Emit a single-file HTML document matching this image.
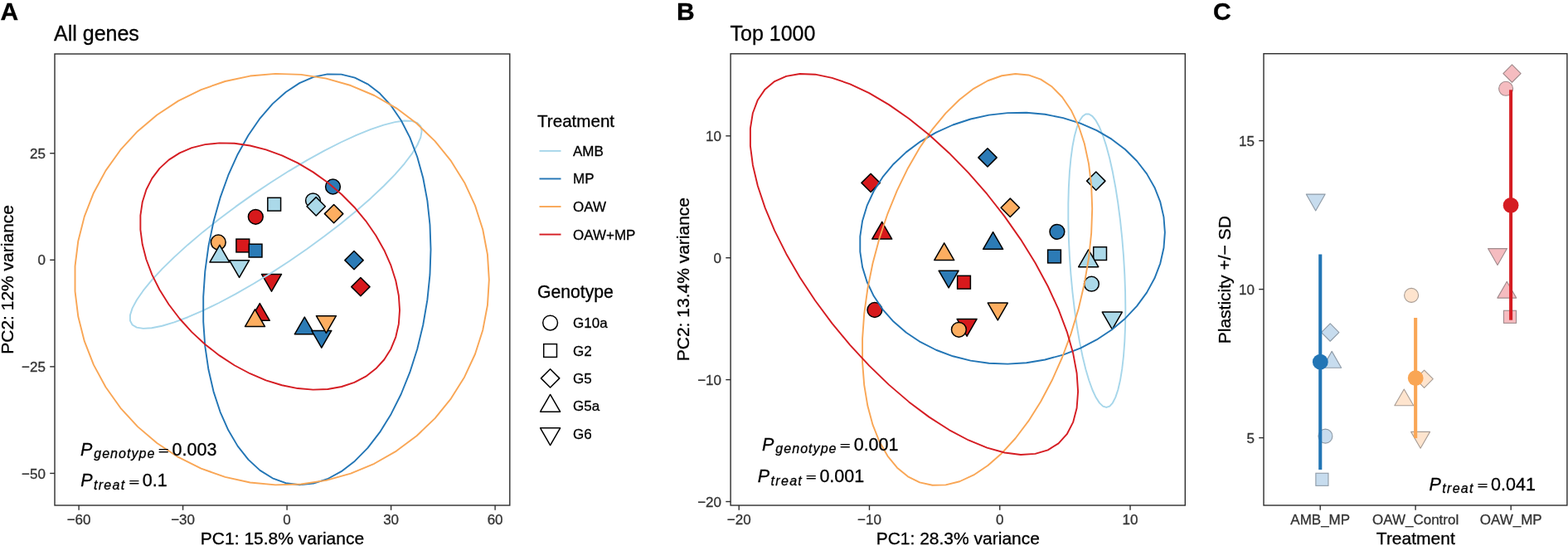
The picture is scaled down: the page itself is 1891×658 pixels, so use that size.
<!DOCTYPE html>
<html><head><meta charset="utf-8"><title>PCA and plasticity</title>
<style>html,body{margin:0;padding:0;background:#fff;}svg{display:block;}text{stroke:#000;stroke-width:0.3px;}text[fill="#333"]{stroke:#333;}</style></head>
<body><svg width="1891" height="658" viewBox="0 0 1891 658" font-family="'Liberation Sans', Arial, Helvetica, sans-serif">
<rect width="1891" height="658" fill="#fff"/>
<text x="0.5" y="24" font-size="30" font-weight="bold">A</text>
<text x="65" y="48.6" font-size="25">All genes</text>
<circle cx="377.5" cy="241.8" r="8.9" fill="#ABD9E9" stroke="#000" stroke-width="1.5"/>
<polygon points="370.05,248.8 381.2,237.65 392.35,248.8 381.2,259.95" fill="#ABD9E9" stroke="#000" stroke-width="1.5" stroke-linejoin="round"/>
<rect x="322.81" y="238.31" width="15.77" height="15.77" fill="#ABD9E9" stroke="#000" stroke-width="1.5"/>
<circle cx="401.5" cy="225" r="8.9" fill="#2C7BB6" stroke="#000" stroke-width="1.5"/>
<polygon points="391.45,257.6 402.6,246.45 413.75,257.6 402.6,268.75" fill="#FDAE61" stroke="#000" stroke-width="1.5" stroke-linejoin="round"/>
<circle cx="308.3" cy="261.3" r="8.9" fill="#D7191C" stroke="#000" stroke-width="1.5"/>
<circle cx="263.3" cy="292" r="8.9" fill="#FDAE61" stroke="#000" stroke-width="1.5"/>
<polygon points="264.9,295.26 276.89,316.02 252.91,316.02" fill="#ABD9E9" stroke="#000" stroke-width="1.5" stroke-linejoin="round"/>
<polygon points="288.6,334.44 300.59,313.68 276.61,313.68" fill="#ABD9E9" stroke="#000" stroke-width="1.5" stroke-linejoin="round"/>
<rect x="284.91" y="288.11" width="15.77" height="15.77" fill="#D7191C" stroke="#000" stroke-width="1.5"/>
<rect x="300.21" y="294.21" width="15.77" height="15.77" fill="#2C7BB6" stroke="#000" stroke-width="1.5"/>
<polygon points="327.5,351.24 339.49,330.48 315.51,330.48" fill="#D7191C" stroke="#000" stroke-width="1.5" stroke-linejoin="round"/>
<polygon points="415.85,313.6 427,302.45 438.15,313.6 427,324.75" fill="#2C7BB6" stroke="#000" stroke-width="1.5" stroke-linejoin="round"/>
<polygon points="423.75,345.6 434.9,334.45 446.05,345.6 434.9,356.75" fill="#D7191C" stroke="#000" stroke-width="1.5" stroke-linejoin="round"/>
<polygon points="313.3,365.56 325.29,386.32 301.31,386.32" fill="#D7191C" stroke="#000" stroke-width="1.5" stroke-linejoin="round"/>
<polygon points="307.5,372.86 319.49,393.62 295.51,393.62" fill="#FDAE61" stroke="#000" stroke-width="1.5" stroke-linejoin="round"/>
<polygon points="367.3,382.06 379.29,402.82 355.31,402.82" fill="#2C7BB6" stroke="#000" stroke-width="1.5" stroke-linejoin="round"/>
<polygon points="387.8,419.14 399.79,398.38 375.81,398.38" fill="#2C7BB6" stroke="#000" stroke-width="1.5" stroke-linejoin="round"/>
<polygon points="393.4,401.44 405.39,380.68 381.41,380.68" fill="#FDAE61" stroke="#000" stroke-width="1.5" stroke-linejoin="round"/>
<polygon points="508.62,158.01 507.29,152.14 503.30,148.07 496.73,145.85 487.68,145.53 476.27,147.11 462.69,150.56 447.13,155.83 429.84,162.84 411.07,171.49 391.11,181.64 370.27,193.13 348.86,205.81 327.20,219.47 305.62,233.90 284.46,248.90 264.02,264.22 244.62,279.64 226.56,294.92 210.10,309.84 195.50,324.16 182.98,337.68 172.73,350.17 164.90,361.47 159.62,371.38 156.95,379.77 156.95,386.51 159.62,391.49 164.90,394.63 172.73,395.90 182.98,395.28 195.50,392.76 210.10,388.39 226.56,382.24 244.62,374.39 264.02,364.98 284.46,354.13 305.62,342.02 327.20,328.83 348.86,314.76 370.27,300.02 391.11,284.83 411.07,269.43 429.84,254.05 447.13,238.92 462.69,224.27 476.27,210.33 487.68,197.30 496.73,185.38 503.30,174.75 507.29,165.58" fill="none" stroke="#A6D6EA" stroke-width="1.9" stroke-linejoin="round"/>
<polygon points="519.52,300.57 518.48,270.74 515.38,241.91 510.25,214.52 503.19,188.98 494.29,165.68 483.69,144.97 471.56,127.16 458.07,112.54 443.43,101.31 427.87,93.64 411.61,89.66 394.91,89.43 378.01,92.94 361.18,100.15 344.67,110.94 328.73,125.16 313.60,142.58 299.51,162.94 286.67,185.94 275.28,211.22 265.52,238.40 257.52,267.07 251.42,296.80 247.29,327.13 245.22,357.61 245.22,387.77 247.29,417.15 251.42,445.31 257.52,471.83 265.52,496.30 275.28,518.34 286.67,537.64 299.51,553.88 313.60,566.84 328.73,576.30 344.67,582.13 361.18,584.24 378.01,582.60 394.91,577.23 411.61,568.21 427.87,555.68 443.43,539.84 458.07,520.91 471.56,499.19 483.69,475.00 494.29,448.72 503.19,420.74 510.25,391.49 515.38,361.40 518.48,330.94" fill="none" stroke="#2275B5" stroke-width="1.9" stroke-linejoin="round"/>
<polygon points="589.83,337.24 587.94,306.78 582.28,276.76 572.96,247.66 560.10,219.90 543.90,193.91 524.61,170.08 502.52,148.78 477.97,130.33 451.33,115.00 422.99,103.03 393.40,94.61 363.00,89.85 332.24,88.83 301.61,91.57 271.55,98.02 242.54,108.09 214.99,121.63 189.35,138.42 165.98,158.22 145.25,180.72 127.48,205.58 112.92,232.43 101.81,260.86 94.30,290.44 90.52,320.72 90.52,351.24 94.30,381.54 101.81,411.15 112.92,439.64 127.48,466.56 145.25,491.52 165.98,514.12 189.35,534.04 214.99,550.96 242.54,564.64 271.55,574.85 301.61,581.46 332.24,584.35 363.00,583.49 393.40,578.88 422.99,570.61 451.33,558.78 477.97,543.59 502.52,525.26 524.61,504.07 543.90,480.34 560.10,454.44 572.96,426.74 582.28,397.68 587.94,367.70" fill="none" stroke="#F9A655" stroke-width="1.9" stroke-linejoin="round"/>
<polygon points="482.03,373.75 480.85,356.27 477.30,338.24 471.46,319.96 463.41,301.69 453.27,283.72 441.19,266.31 427.36,249.72 411.98,234.22 395.30,220.03 377.56,207.37 359.03,196.44 339.99,187.39 320.73,180.36 301.55,175.47 282.73,172.78 264.56,172.34 247.31,174.15 231.25,178.18 216.62,184.38 203.64,192.65 192.51,202.87 183.39,214.87 176.43,228.49 171.73,243.50 169.37,259.69 169.37,276.81 171.73,294.60 176.43,312.78 183.39,331.09 192.51,349.25 203.64,366.97 216.62,384.00 231.25,400.08 247.31,414.95 264.56,428.40 282.73,440.22 301.55,450.23 320.73,458.29 339.99,464.26 359.03,468.06 377.56,469.62 395.30,468.94 411.98,466.01 427.36,460.88 441.19,453.63 453.27,444.37 463.41,433.24 471.46,420.41 477.30,406.07 480.85,390.44" fill="none" stroke="#D51C22" stroke-width="1.9" stroke-linejoin="round"/>
<rect x="66" y="65" width="548.8" height="544" fill="none" stroke="#2e2e2e" stroke-width="1.4"/>
<line x1="95.1" y1="609" x2="95.1" y2="614.8" stroke="#2e2e2e" stroke-width="1.4"/>
<text x="95.1" y="632" font-size="17" fill="#333" text-anchor="middle">−60</text>
<line x1="220.6" y1="609" x2="220.6" y2="614.8" stroke="#2e2e2e" stroke-width="1.4"/>
<text x="220.6" y="632" font-size="17" fill="#333" text-anchor="middle">−30</text>
<line x1="346.1" y1="609" x2="346.1" y2="614.8" stroke="#2e2e2e" stroke-width="1.4"/>
<text x="346.1" y="632" font-size="17" fill="#333" text-anchor="middle">0</text>
<line x1="471.6" y1="609" x2="471.6" y2="614.8" stroke="#2e2e2e" stroke-width="1.4"/>
<text x="471.6" y="632" font-size="17" fill="#333" text-anchor="middle">30</text>
<line x1="597.1" y1="609" x2="597.1" y2="614.8" stroke="#2e2e2e" stroke-width="1.4"/>
<text x="597.1" y="632" font-size="17" fill="#333" text-anchor="middle">60</text>
<line x1="60.2" y1="184.73" x2="66" y2="184.73" stroke="#2e2e2e" stroke-width="1.4"/>
<text x="54.9" y="190.83" font-size="17" fill="#333" text-anchor="end">25</text>
<line x1="60.2" y1="313.3" x2="66" y2="313.3" stroke="#2e2e2e" stroke-width="1.4"/>
<text x="54.9" y="319.4" font-size="17" fill="#333" text-anchor="end">0</text>
<line x1="60.2" y1="441.87" x2="66" y2="441.87" stroke="#2e2e2e" stroke-width="1.4"/>
<text x="54.9" y="447.97" font-size="17" fill="#333" text-anchor="end">−25</text>
<line x1="60.2" y1="570.43" x2="66" y2="570.43" stroke="#2e2e2e" stroke-width="1.4"/>
<text x="54.9" y="576.53" font-size="17" fill="#333" text-anchor="end">−50</text>
<text x="340.5" y="656" font-size="21" text-anchor="middle">PC1: 15.8% variance</text>
<text transform="translate(16,336.9) rotate(-90)" font-size="21" text-anchor="middle">PC2: 12% variance</text>
<text x="97" y="548.7" font-size="21.5" font-style="italic">P</text><text x="113.2" y="552.4" font-size="16" font-style="italic" letter-spacing="1.05">genotype</text><text transform="translate(191,547.2) scale(1,0.544)" font-size="21.5" font-weight="bold">=</text><text x="207.6" y="548.7" font-size="21.5">0.003</text>
<text x="97.2" y="586.2" font-size="21.5" font-style="italic">P</text><text x="113" y="589.9" font-size="16" font-style="italic" letter-spacing="1.3">treat</text><text transform="translate(155.5,584.7) scale(1,0.544)" font-size="21.5" font-weight="bold">=</text><text x="171.8" y="586.2" font-size="21.5">0.1</text>
<text x="648" y="152.8" font-size="20.6">Treatment</text>
<line x1="650.5" y1="181.9" x2="676.5" y2="181.9" stroke="#A6D6EA" stroke-width="1.9"/>
<text x="691" y="187.9" font-size="17">AMB</text>
<line x1="650.5" y1="215.45" x2="676.5" y2="215.45" stroke="#2275B5" stroke-width="1.9"/>
<text x="691" y="221.45" font-size="17">MP</text>
<line x1="650.5" y1="249" x2="676.5" y2="249" stroke="#F9A655" stroke-width="1.9"/>
<text x="691" y="255" font-size="17">OAW</text>
<line x1="650.5" y1="282.55" x2="676.5" y2="282.55" stroke="#D51C22" stroke-width="1.9"/>
<text x="691" y="288.55" font-size="17">OAW+MP</text>
<text x="648" y="359.4" font-size="21.2">Genotype</text>
<circle cx="663.6" cy="389.1" r="8.9" fill="#fff" stroke="#000" stroke-width="1.5"/>
<text x="691" y="395.1" font-size="17">G10a</text>
<rect x="655.71" y="414.61" width="15.77" height="15.77" fill="#fff" stroke="#000" stroke-width="1.5"/>
<text x="691" y="428.5" font-size="17">G2</text>
<polygon points="652.45,455.9 663.6,444.75 674.75,455.9 663.6,467.05" fill="#fff" stroke="#000" stroke-width="1.5" stroke-linejoin="round"/>
<text x="691" y="461.9" font-size="17">G5</text>
<polygon points="663.6,475.46 675.59,496.22 651.61,496.22" fill="#fff" stroke="#000" stroke-width="1.5" stroke-linejoin="round"/>
<text x="691" y="495.3" font-size="17">G5a</text>
<polygon points="663.6,536.54 675.59,515.78 651.61,515.78" fill="#fff" stroke="#000" stroke-width="1.5" stroke-linejoin="round"/>
<text x="691" y="528.7" font-size="17">G6</text>
<text x="816" y="24" font-size="30" font-weight="bold">B</text>
<text x="880.5" y="48.9" font-size="25">Top 1000</text>
<polygon points="1310.65,218.1 1321.8,206.95 1332.95,218.1 1321.8,229.25" fill="#ABD9E9" stroke="#000" stroke-width="1.5" stroke-linejoin="round"/>
<rect x="1318.71" y="297.71" width="15.77" height="15.77" fill="#ABD9E9" stroke="#000" stroke-width="1.5"/>
<polygon points="1312.7,300.96 1324.69,321.72 1300.71,321.72" fill="#ABD9E9" stroke="#000" stroke-width="1.5" stroke-linejoin="round"/>
<circle cx="1316.4" cy="342.2" r="8.9" fill="#ABD9E9" stroke="#000" stroke-width="1.5"/>
<polygon points="1341.3,396.84 1353.29,376.08 1329.31,376.08" fill="#ABD9E9" stroke="#000" stroke-width="1.5" stroke-linejoin="round"/>
<polygon points="1179.85,189.9 1191,178.75 1202.15,189.9 1191,201.05" fill="#2C7BB6" stroke="#000" stroke-width="1.5" stroke-linejoin="round"/>
<circle cx="1274.9" cy="279.3" r="8.9" fill="#2C7BB6" stroke="#000" stroke-width="1.5"/>
<polygon points="1197.6,279.56 1209.59,300.32 1185.61,300.32" fill="#2C7BB6" stroke="#000" stroke-width="1.5" stroke-linejoin="round"/>
<rect x="1263.61" y="301.11" width="15.77" height="15.77" fill="#2C7BB6" stroke="#000" stroke-width="1.5"/>
<polygon points="1144.1,346.94 1156.09,326.18 1132.11,326.18" fill="#2C7BB6" stroke="#000" stroke-width="1.5" stroke-linejoin="round"/>
<polygon points="1207.15,250.3 1218.3,239.15 1229.45,250.3 1218.3,261.45" fill="#FDAE61" stroke="#000" stroke-width="1.5" stroke-linejoin="round"/>
<polygon points="1138.7,292.86 1150.69,313.62 1126.71,313.62" fill="#FDAE61" stroke="#000" stroke-width="1.5" stroke-linejoin="round"/>
<polygon points="1203.3,385.84 1215.29,365.08 1191.31,365.08" fill="#FDAE61" stroke="#000" stroke-width="1.5" stroke-linejoin="round"/>
<polygon points="1038.95,220.4 1050.1,209.25 1061.25,220.4 1050.1,231.55" fill="#D7191C" stroke="#000" stroke-width="1.5" stroke-linejoin="round"/>
<polygon points="1063.7,267.26 1075.69,288.02 1051.71,288.02" fill="#D7191C" stroke="#000" stroke-width="1.5" stroke-linejoin="round"/>
<rect x="1154.61" y="332.31" width="15.77" height="15.77" fill="#D7191C" stroke="#000" stroke-width="1.5"/>
<circle cx="1054.9" cy="373.5" r="8.9" fill="#D7191C" stroke="#000" stroke-width="1.5"/>
<polygon points="1166.1,405.24 1178.09,384.48 1154.11,384.48" fill="#D7191C" stroke="#000" stroke-width="1.5" stroke-linejoin="round"/>
<circle cx="1156.4" cy="397.3" r="8.9" fill="#FDAE61" stroke="#000" stroke-width="1.5"/>
<polygon points="1357.33,372.67 1357.07,351.71 1356.29,330.19 1355.00,308.42 1353.22,286.74 1350.98,265.47 1348.32,244.94 1345.27,225.46 1341.87,207.31 1338.19,190.79 1334.28,176.14 1330.19,163.57 1325.99,153.29 1321.74,145.45 1317.50,140.16 1313.35,137.51 1309.34,137.53 1305.53,140.23 1301.99,145.56 1298.76,153.45 1295.90,163.78 1293.44,176.38 1291.43,191.07 1289.89,207.62 1288.86,225.79 1288.33,245.29 1288.33,265.84 1288.86,287.12 1289.89,308.80 1291.43,330.57 1293.44,352.09 1295.90,373.03 1298.76,393.07 1301.99,411.92 1305.53,429.29 1309.34,444.90 1313.35,458.54 1317.50,469.98 1321.74,479.06 1325.99,485.64 1330.19,489.62 1334.28,490.94 1338.19,489.57 1341.87,485.55 1345.27,478.92 1348.32,469.80 1350.98,458.32 1353.22,444.64 1355.00,428.99 1356.29,411.60 1357.07,392.73" fill="none" stroke="#A6D6EA" stroke-width="1.9" stroke-linejoin="round"/>
<polygon points="1404.86,280.16 1403.47,261.61 1399.31,243.45 1392.44,225.95 1382.97,209.38 1371.05,193.99 1356.85,180.01 1340.59,167.66 1322.51,157.11 1302.90,148.54 1282.04,142.07 1260.26,137.80 1237.87,135.79 1215.23,136.08 1192.68,138.66 1170.56,143.49 1149.19,150.50 1128.92,159.57 1110.04,170.59 1092.84,183.37 1077.58,197.72 1064.49,213.43 1053.78,230.26 1045.60,247.95 1040.07,266.23 1037.29,284.83 1037.29,303.47 1040.07,321.86 1045.60,339.72 1053.78,356.79 1064.49,372.80 1077.58,387.51 1092.84,400.70 1110.04,412.17 1128.92,421.75 1149.19,429.28 1170.56,434.66 1192.68,437.81 1215.23,438.67 1237.87,437.23 1260.26,433.52 1282.04,427.59 1302.90,419.54 1322.51,409.47 1340.59,397.55 1356.85,383.96 1371.05,368.90 1382.97,352.60 1392.44,335.31 1399.31,317.29 1403.47,298.81" fill="none" stroke="#2275B5" stroke-width="1.9" stroke-linejoin="round"/>
<polygon points="1317.21,251.56 1316.16,223.59 1313.02,197.34 1307.85,173.20 1300.71,151.55 1291.72,132.71 1281.01,116.97 1268.75,104.56 1255.13,95.67 1240.34,90.45 1224.61,88.96 1208.19,91.23 1191.32,97.23 1174.25,106.86 1157.25,119.98 1140.57,136.39 1124.46,155.84 1109.17,178.04 1094.94,202.65 1081.97,229.30 1070.47,257.57 1060.60,287.06 1052.52,317.30 1046.36,347.83 1042.19,378.21 1040.09,407.96 1040.09,436.63 1042.19,463.79 1046.36,489.04 1052.52,511.97 1060.60,532.26 1070.47,549.58 1081.97,563.69 1094.94,574.35 1109.17,581.42 1124.46,584.79 1140.57,584.39 1157.25,580.25 1174.25,572.42 1191.32,561.02 1208.19,546.23 1224.61,528.26 1240.34,507.40 1255.13,483.95 1268.75,458.28 1281.01,430.76 1291.72,401.83 1300.71,371.91 1307.85,341.46 1313.02,310.95 1316.16,280.83" fill="none" stroke="#F9A655" stroke-width="1.9" stroke-linejoin="round"/>
<polygon points="1300.09,471.89 1298.60,449.74 1294.12,425.60 1286.74,399.84 1276.56,372.84 1263.74,345.02 1248.47,316.80 1230.99,288.60 1211.56,260.85 1190.47,233.97 1168.04,208.38 1144.62,184.45 1120.56,162.56 1096.22,143.02 1071.97,126.15 1048.18,112.19 1025.22,101.36 1003.42,93.82 983.12,89.68 964.63,89.01 948.22,91.82 934.15,98.06 922.63,107.65 913.83,120.43 907.89,136.21 904.90,154.75 904.90,175.77 907.89,198.96 913.83,223.96 922.63,250.39 934.15,277.85 948.22,305.93 964.63,334.19 983.12,362.22 1003.42,389.59 1025.22,415.87 1048.18,440.68 1071.97,463.63 1096.22,484.39 1120.56,502.62 1144.62,518.07 1168.04,530.49 1190.47,539.69 1211.56,545.54 1230.99,547.95 1248.47,546.88 1263.74,542.35 1276.56,534.42 1286.74,523.21 1294.12,508.91 1298.60,491.71" fill="none" stroke="#D51C22" stroke-width="1.9" stroke-linejoin="round"/>
<rect x="881.1" y="64.8" width="548.2" height="544.2" fill="none" stroke="#2e2e2e" stroke-width="1.4"/>
<line x1="891.21" y1="609" x2="891.21" y2="614.8" stroke="#2e2e2e" stroke-width="1.4"/>
<text x="891.21" y="632" font-size="17" fill="#333" text-anchor="middle">−20</text>
<line x1="1048.48" y1="609" x2="1048.48" y2="614.8" stroke="#2e2e2e" stroke-width="1.4"/>
<text x="1048.48" y="632" font-size="17" fill="#333" text-anchor="middle">−10</text>
<line x1="1205.75" y1="609" x2="1205.75" y2="614.8" stroke="#2e2e2e" stroke-width="1.4"/>
<text x="1205.75" y="632" font-size="17" fill="#333" text-anchor="middle">0</text>
<line x1="1363.02" y1="609" x2="1363.02" y2="614.8" stroke="#2e2e2e" stroke-width="1.4"/>
<text x="1363.02" y="632" font-size="17" fill="#333" text-anchor="middle">10</text>
<line x1="875.3" y1="163.8" x2="881.1" y2="163.8" stroke="#2e2e2e" stroke-width="1.4"/>
<text x="870" y="169.9" font-size="17" fill="#333" text-anchor="end">10</text>
<line x1="875.3" y1="310.7" x2="881.1" y2="310.7" stroke="#2e2e2e" stroke-width="1.4"/>
<text x="870" y="316.8" font-size="17" fill="#333" text-anchor="end">0</text>
<line x1="875.3" y1="457.6" x2="881.1" y2="457.6" stroke="#2e2e2e" stroke-width="1.4"/>
<text x="870" y="463.7" font-size="17" fill="#333" text-anchor="end">−10</text>
<line x1="875.3" y1="604.5" x2="881.1" y2="604.5" stroke="#2e2e2e" stroke-width="1.4"/>
<text x="870" y="610.6" font-size="17" fill="#333" text-anchor="end">−20</text>
<text x="1155.3" y="656" font-size="21" text-anchor="middle">PC1: 28.3% variance</text>
<text transform="translate(831,336.6) rotate(-90)" font-size="21" text-anchor="middle">PC2: 13.4% variance</text>
<text x="919.1" y="542.6" font-size="21.5" font-style="italic">P</text><text x="935.3" y="546.3" font-size="16" font-style="italic" letter-spacing="1.05">genotype</text><text transform="translate(1013.1,541.1) scale(1,0.544)" font-size="21.5" font-weight="bold">=</text><text x="1029.7" y="542.6" font-size="21.5">0.001</text>
<text x="913.8" y="580.9" font-size="21.5" font-style="italic">P</text><text x="929.6" y="584.6" font-size="16" font-style="italic" letter-spacing="1.3">treat</text><text transform="translate(972.1,579.4) scale(1,0.544)" font-size="21.5" font-weight="bold">=</text><text x="988.4" y="580.9" font-size="21.5">0.001</text>
<text x="1463" y="24" font-size="30" font-weight="bold">C</text>
<polygon points="1586.7,253.92 1598.15,234.09 1575.25,234.09" fill="#C7DCEE" stroke="#8E9AA6" stroke-width="1.1" stroke-linejoin="round"/>
<polygon points="1593.55,400.6 1604.2,389.95 1614.85,400.6 1604.2,411.25" fill="#C7DCEE" stroke="#8E9AA6" stroke-width="1.1" stroke-linejoin="round"/>
<polygon points="1606.2,423.38 1617.65,443.21 1594.75,443.21" fill="#C7DCEE" stroke="#8E9AA6" stroke-width="1.1" stroke-linejoin="round"/>
<circle cx="1598.4" cy="525.6" r="8.5" fill="#C7DCEE" stroke="#8E9AA6" stroke-width="1.1"/>
<rect x="1586.87" y="570.27" width="15.07" height="15.07" fill="#C7DCEE" stroke="#8E9AA6" stroke-width="1.1"/>
<rect x="1590.2" y="306.5" width="4.1" height="259.5" fill="#2275B5"/>
<circle cx="1592.3" cy="436.2" r="9.4" fill="#2275B5"/>
<circle cx="1702.1" cy="355.9" r="8.5" fill="#FEE4CE" stroke="#A89C94" stroke-width="1.1"/>
<polygon points="1706.95,456.7 1717.6,446.05 1728.25,456.7 1717.6,467.35" fill="#FEE4CE" stroke="#A89C94" stroke-width="1.1" stroke-linejoin="round"/>
<polygon points="1693.3,468.98 1704.75,488.81 1681.85,488.81" fill="#FEE4CE" stroke="#A89C94" stroke-width="1.1" stroke-linejoin="round"/>
<polygon points="1713.1,540.22 1724.55,520.39 1701.65,520.39" fill="#FEE4CE" stroke="#A89C94" stroke-width="1.1" stroke-linejoin="round"/>
<rect x="1705.1" y="383" width="4.1" height="145.1" fill="#F9A655"/>
<circle cx="1707.2" cy="455.7" r="9.4" fill="#F9A655"/>
<polygon points="1812.85,88.6 1823.5,77.95 1834.15,88.6 1823.5,99.25" fill="#F5BCC0" stroke="#A08A8C" stroke-width="1.1" stroke-linejoin="round"/>
<circle cx="1816.1" cy="106.8" r="8.5" fill="#F5BCC0" stroke="#A08A8C" stroke-width="1.1"/>
<polygon points="1806,319.42 1817.45,299.59 1794.55,299.59" fill="#F5BCC0" stroke="#A08A8C" stroke-width="1.1" stroke-linejoin="round"/>
<polygon points="1817.3,339.28 1828.75,359.11 1805.85,359.11" fill="#F5BCC0" stroke="#A08A8C" stroke-width="1.1" stroke-linejoin="round"/>
<rect x="1813.47" y="374.27" width="15.07" height="15.07" fill="#F5BCC0" stroke="#A08A8C" stroke-width="1.1"/>
<rect x="1820.1" y="108.3" width="4.0" height="277.4" fill="#D51C22"/>
<circle cx="1822.1" cy="247.4" r="9.4" fill="#D51C22"/>
<rect x="1524" y="64.7" width="365.9" height="544.3" fill="none" stroke="#2e2e2e" stroke-width="1.4"/>
<line x1="1592.2" y1="609" x2="1592.2" y2="614.8" stroke="#2e2e2e" stroke-width="1.4"/>
<text x="1592.2" y="632" font-size="17" fill="#333" text-anchor="middle">AMB_MP</text>
<line x1="1707.1" y1="609" x2="1707.1" y2="614.8" stroke="#2e2e2e" stroke-width="1.4"/>
<text x="1707.1" y="632" font-size="17" fill="#333" text-anchor="middle">OAW_Control</text>
<line x1="1822.2" y1="609" x2="1822.2" y2="614.8" stroke="#2e2e2e" stroke-width="1.4"/>
<text x="1822.2" y="632" font-size="17" fill="#333" text-anchor="middle">OAW_MP</text>
<line x1="1518.2" y1="527.6" x2="1524" y2="527.6" stroke="#2e2e2e" stroke-width="1.4"/>
<text x="1512.9" y="533.7" font-size="17" fill="#333" text-anchor="end">5</text>
<line x1="1518.2" y1="348.6" x2="1524" y2="348.6" stroke="#2e2e2e" stroke-width="1.4"/>
<text x="1512.9" y="354.7" font-size="17" fill="#333" text-anchor="end">10</text>
<line x1="1518.2" y1="169.6" x2="1524" y2="169.6" stroke="#2e2e2e" stroke-width="1.4"/>
<text x="1512.9" y="175.7" font-size="17" fill="#333" text-anchor="end">15</text>
<text x="1707.3" y="656" font-size="21" text-anchor="middle">Treatment</text>
<text transform="translate(1484,337.2) rotate(-90)" font-size="21" text-anchor="middle">Plasticity +/− SD</text>
<text x="1723.5" y="590.5" font-size="21.5" font-style="italic">P</text><text x="1739.3" y="594.2" font-size="16" font-style="italic" letter-spacing="1.3">treat</text><text transform="translate(1781.8,589) scale(1,0.544)" font-size="21.5" font-weight="bold">=</text><text x="1798.1" y="590.5" font-size="21.5">0.041</text>
</svg></body></html>
